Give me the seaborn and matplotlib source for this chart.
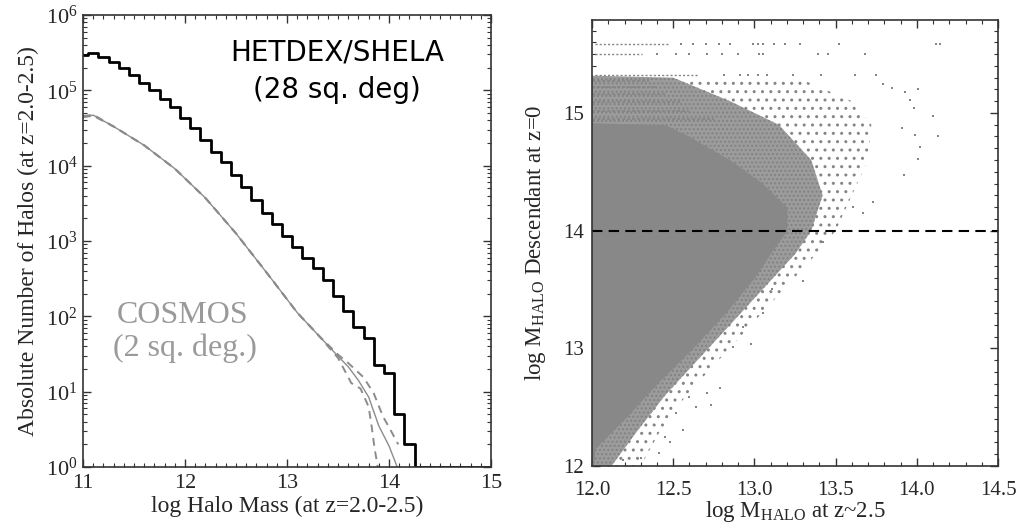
import numpy as np
import pandas as pd
import matplotlib
matplotlib.use("Agg")
import matplotlib.pyplot as plt
import seaborn as sns
from matplotlib.ticker import MultipleLocator, FixedLocator, LogLocator, NullFormatter, LogFormatterMathtext

# ---------------- Left panel data ----------------
# HETDEX/SHELA histogram: bin edges and counts
hist_edges = [10.95, 11.05, 11.15, 11.25, 11.35, 11.45, 11.55, 11.65, 11.75, 11.85,
              11.95, 12.05, 12.15, 12.25, 12.35, 12.45, 12.55, 12.65, 12.75, 12.85,
              12.95, 13.05, 13.15, 13.25, 13.35, 13.45, 13.55, 13.65, 13.75, 13.85,
              13.95, 14.05, 14.15, 14.25, 15.05]
hist_counts = [294000, 316000, 280000, 235000, 196000, 160000, 126000, 101000, 77600, 60300,
               42600, 31300, 21900, 15350, 11300, 7520, 5260, 3500, 2330, 1660,
               1150, 840, 598, 434, 300, 186, 119, 71.5, 51, 22.6,
               17.5, 5.0, 2.0, 1.0]

# COSMOS curves (solid + two dashed)
cos_x = [11.0, 11.1, 11.3, 11.6, 11.9, 12.2, 12.5, 12.8, 13.1, 13.3, 13.5, 13.6, 13.7,
         13.8, 13.9, 14.0, 14.08]
cos_mid = [44700, 46800, 33100, 18600, 9120, 3720, 1260, 380, 112, 57.5, 29.5, 21.4, 14.1,
           8.5, 3.5, 1.9, 1.0]
cos_hi_x = [11.0, 11.1, 11.3, 11.6, 11.9, 12.2, 12.5, 12.8, 13.1, 13.3, 13.5, 13.6, 13.75,
            13.85, 13.94, 14.02, 14.09]
cos_hi = [44000, 46000, 33100, 18600, 9120, 3720, 1260, 380, 112, 57.5, 31, 24, 15.5,
          9.5, 4.7, 3.0, 2.0]
cos_lo_x = [11.0, 11.1, 11.3, 11.6, 11.9, 12.2, 12.5, 12.8, 13.1, 13.3, 13.5, 13.63, 13.72,
            13.80, 13.83, 13.86, 13.89]
cos_lo = [45500, 47500, 33100, 18600, 9120, 3720, 1260, 380, 112, 57.5, 28, 13, 11,
          6.3, 3.4, 1.7, 1.0]

# ---------------- Right panel data ----------------
# dense core of the scatter (right edge in x as a function of y)
core_y = [11.9, 12.15, 12.4, 12.7, 13.0, 13.3, 13.6, 13.85, 14.0, 14.2, 14.4, 14.6, 14.8, 14.9, 14.92]
core_x = [12.0, 12.02, 12.2, 12.4, 12.62, 12.82, 13.0, 13.12, 13.2, 13.2, 13.05, 12.85, 12.6, 12.45, 11.9]
# medium-density zone
med_y = [11.9, 12.0, 12.3, 12.6, 12.9, 13.2, 13.5, 13.8, 14.0, 14.3, 14.6, 14.9, 15.1, 15.3, 15.32]
med_x = [12.08, 12.12, 12.28, 12.45, 12.65, 12.85, 13.05, 13.25, 13.35, 13.42, 13.35, 13.15, 12.85, 12.5, 11.9]
# sparse zone
spr_y = [11.9, 12.0, 12.3, 12.6, 12.9, 13.2, 13.5, 13.8, 14.0, 14.3, 14.6, 14.9, 15.1, 15.28, 15.3]
spr_x = [12.25, 12.3, 12.42, 12.58, 12.78, 12.98, 13.18, 13.38, 13.5, 13.6, 13.7, 13.72, 13.6, 13.3, 11.9]
# horizontal streaks just above the core
streak_y = [14.95, 15.02, 15.09, 15.16, 15.22, 15.27]
streak_x1 = [12.75, 12.6, 12.55, 12.45, 12.4, 12.35]

# isolated halos
out_x = [14.10, 14.13, 14.01, 14.02, 13.99, 13.96, 14.01, 13.93, 13.92, 13.85, 13.79, 13.98,
         13.91, 13.73, 13.67, 12.73, 12.79, 12.98, 12.87, 12.71, 12.56, 12.48, 12.41, 12.30,
         13.30, 13.11, 13.05, 12.93, 12.60, 12.64, 12.52, 12.45, 12.36, 12.19, 13.51, 13.61, 13.42]
out_y = [14.97, 14.80, 14.61, 14.71, 14.81, 15.11, 15.20, 15.18, 14.47, 15.21, 15.25, 15.04,
         14.87, 14.24, 14.15, 12.52, 12.66, 13.04, 13.01, 12.62, 12.31, 12.20, 12.11, 12.07,
         13.57, 13.50, 13.30, 13.18, 12.59, 12.50, 12.45, 12.25, 12.28, 12.05, 14.05, 14.20, 13.90]

# top rows of massive descendants: dense runs and isolated points
row_levels = [15.59, 15.50, 15.32]
row_runs = [(12.02, 12.48), (12.02, 12.31), (12.02, 12.66)]
row1_x = [12.55, 12.62, 12.70, 12.78, 12.85, 12.99, 13.02, 13.05, 13.12, 13.19, 13.28, 13.52, 14.12, 14.14]
row2_x = [12.40, 12.52, 12.60, 12.71, 12.80, 12.90, 13.03, 13.05, 13.39, 13.45, 13.68]
row3_x = [12.81, 12.91, 12.96, 13.02, 13.08, 13.24, 13.41, 13.62, 13.75]

threshold = 14.0

# ---------------- Style ----------------
sns.set_style("ticks")
plt.rcParams["font.family"] = ["Liberation Serif", "DejaVu Serif"]
plt.rcParams["mathtext.fontset"] = "custom"
plt.rcParams["mathtext.rm"] = "Liberation Serif"
plt.rcParams["mathtext.it"] = "Liberation Serif:italic"
plt.rcParams["axes.linewidth"] = 1.2
plt.rcParams["axes.edgecolor"] = "#333333"
plt.rcParams["hatch.linewidth"] = 1.0

fig = plt.figure(figsize=(10.19, 5.29), dpi=100)
ax1 = fig.add_axes([0.0815, 0.1172, 0.4004, 0.8544])
ax2 = fig.add_axes([0.581, 0.1191, 0.3984, 0.8431])

# ---- Left panel ----
centers = [(hist_edges[i] + hist_edges[i + 1]) / 2 for i in range(len(hist_counts))]
hdf = pd.DataFrame({"mass": centers, "n": hist_counts})
sns.histplot(data=hdf, x="mass", weights="n", bins=hist_edges, element="step", fill=False,
             color="black", linewidth=2.0, log_scale=(False, True), ax=ax1)

gray = "#8c8c8c"
sns.lineplot(x=cos_x, y=cos_mid, ax=ax1, color=gray, linewidth=1.0)
sns.lineplot(x=cos_hi_x, y=cos_hi, ax=ax1, color=gray, linewidth=1.4, dashes=False,
             linestyle=(0, (4, 3)))
sns.lineplot(x=cos_lo_x, y=cos_lo, ax=ax1, color=gray, linewidth=1.4, dashes=False,
             linestyle=(0, (4, 3)))

ax1.set_xlim(11, 15)
ax1.set_ylim(1, 1e6)
ax1.xaxis.set_major_locator(MultipleLocator(1))
ax1.xaxis.set_minor_locator(MultipleLocator(0.1))
ax1.yaxis.set_major_locator(FixedLocator([1, 10, 100, 1e3, 1e4, 1e5, 1e6]))
ax1.yaxis.set_major_formatter(LogFormatterMathtext())
ax1.yaxis.set_minor_locator(LogLocator(base=10, subs=np.arange(2, 10), numticks=20))
ax1.yaxis.set_minor_formatter(NullFormatter())
ax1.tick_params(which="both", direction="in", top=True, right=True, color="#333333")
ax1.tick_params(which="major", length=6, width=1.0)
ax1.tick_params(which="minor", length=3, width=0.8)
ax1.tick_params(axis="x", which="major", labelsize=16, pad=5)
ax1.tick_params(axis="y", which="major", labelsize=16, pad=4)
ax1.set_xlabel("log Halo Mass (at z=2.0-2.5)", fontsize=17)
ax1.set_ylabel("Absolute Number of Halos (at z=2.0-2.5)", fontsize=17)
ax1.xaxis.label.set_va("center")
ax1.yaxis.label.set_va("center")
ax1.xaxis.set_label_coords(0.5, -0.088)
ax1.yaxis.set_label_coords(-0.135, 0.5)

ax1.text(0.6225, 0.916, "HETDEX/SHELA", transform=ax1.transAxes, ha="center", va="center",
         fontsize=20, family="DejaVu Sans", color="black")
ax1.text(0.6225, 0.834, "(28 sq. deg)", transform=ax1.transAxes, ha="center", va="center",
         fontsize=20, family="DejaVu Sans", color="black")
ax1.text(0.243, 0.336, "COSMOS", transform=ax1.transAxes, ha="center", va="center",
         fontsize=23, color="#9a9a9a")
ax1.text(0.25, 0.263, "(2 sq. deg.)", transform=ax1.transAxes, ha="center", va="center",
         fontsize=23, color="#9a9a9a")

# ---- Right panel ----
dot = "#858585"
ax2.fill_betweenx(spr_y, 11.9, spr_x, facecolor="none", edgecolor=dot, hatch="..", linewidth=0)
ax2.fill_betweenx(med_y, 11.9, med_x, facecolor="#9c9c9c", edgecolor="#828282", hatch="....", linewidth=0)
ax2.fill_betweenx(core_y, 11.9, core_x, facecolor="#888888", linewidth=0)
for sy, sx in zip(streak_y, streak_x1):
    ax2.plot([12.0, sx], [sy, sy], color=dot, linewidth=1.2, linestyle=(0, (2, 1)))

for lvl, (x0, x1) in zip(row_levels, row_runs):
    ax2.plot([x0, x1], [lvl, lvl], color=dot, linewidth=1.0, linestyle=(0, (1.5, 1.5)))
rows = pd.DataFrame({
    "x": row1_x + row2_x + row3_x,
    "y": [row_levels[0]] * len(row1_x) + [row_levels[1]] * len(row2_x) + [row_levels[2]] * len(row3_x),
})
sns.scatterplot(data=rows, x="x", y="y", ax=ax2, s=4, color=dot, linewidth=0, marker="s")
odf = pd.DataFrame({"x": out_x, "y": out_y})
sns.scatterplot(data=odf, x="x", y="y", ax=ax2, s=4, color=dot, linewidth=0, marker="s")

ax2.axhline(threshold, color="black", linewidth=1.5, linestyle=(0, (5, 3)))

ax2.set_xlim(12.0, 14.5)
ax2.set_ylim(12.0, 15.79)
ax2.xaxis.set_major_locator(MultipleLocator(0.5))
ax2.xaxis.set_minor_locator(MultipleLocator(0.1))
ax2.yaxis.set_major_locator(MultipleLocator(1))
ax2.yaxis.set_minor_locator(MultipleLocator(0.1))
ax2.xaxis.set_major_formatter(matplotlib.ticker.FormatStrFormatter("%.1f"))
ax2.yaxis.set_major_formatter(matplotlib.ticker.FormatStrFormatter("%d"))
ax2.tick_params(which="both", direction="in", top=True, right=True, color="#333333")
ax2.tick_params(which="major", length=6, width=1.0)
ax2.tick_params(which="minor", length=3, width=0.8)
ax2.tick_params(axis="x", which="major", labelsize=15, pad=11)
ax2.tick_params(axis="y", which="major", labelsize=15, pad=6)
ax2.set_xlabel(r"log M$_{\mathrm{HALO}}$ at z~2.5", fontsize=16.5)
ax2.set_ylabel(r"log M$_{\mathrm{HALO}}$ Descendant at z=0", fontsize=16.5)
ax2.xaxis.label.set_va("center")
ax2.yaxis.label.set_va("center")
ax2.xaxis.set_label_coords(0.5, -0.103)
ax2.yaxis.set_label_coords(-0.140, 0.5)

fig.savefig("out.png", dpi=100)
